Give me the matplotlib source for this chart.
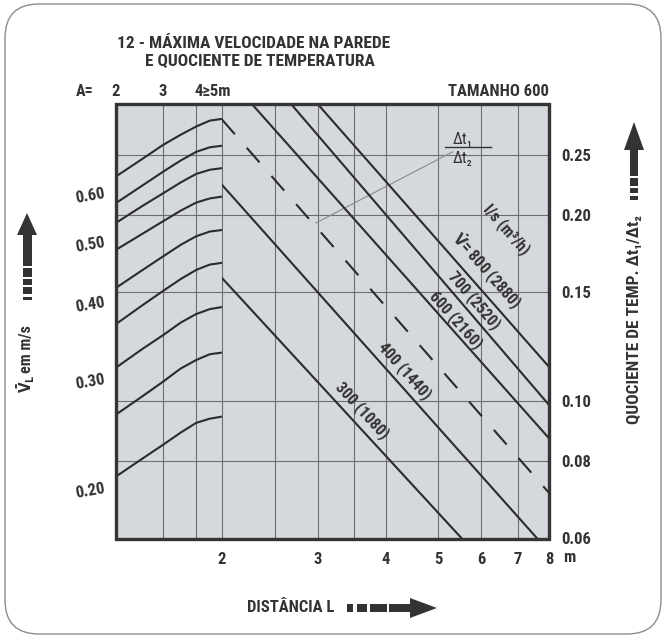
import numpy as np
import matplotlib
matplotlib.use("Agg")
import matplotlib.pyplot as plt
from matplotlib.patches import Rectangle, FancyBboxPatch, Polygon
from matplotlib import transforms
from matplotlib import font_manager as fm
from matplotlib.ticker import NullLocator, NullFormatter

# pick a condensed bold font if one is installed
_cond = [f for f in fm.fontManager.ttflist
         if f.stretch in ('condensed', 'semi-condensed', 'extra-condensed', 'ultra-condensed')
         or 'Condensed' in f.name or 'Narrow' in f.name]
_pref = ['Roboto Condensed', 'Liberation Sans Narrow', 'Roboto', 'DejaVu Sans',
         'Noto Sans', 'Open Sans', 'Open Sans Condensed']
FONT, STRETCH = 'DejaVu Sans', 'normal'
for p in _pref:
    hits = [f for f in _cond if f.name == p]
    if hits:
        FONT = p
        STRETCH = hits[0].stretch if not isinstance(hits[0].stretch, int) else 'condensed'
        break
else:
    if _cond:
        FONT, STRETCH = _cond[0].name, _cond[0].stretch
plt.rcParams['font.family'] = [FONT, 'DejaVu Sans']
plt.rcParams['font.stretch'] = STRETCH
plt.rcParams['font.weight'] = 'bold'
plt.rcParams['mathtext.fontset'] = 'dejavusans'
plt.rcParams['lines.scale_dashes'] = False

# ---------------- data ----------------
A_points = [2, 2.5, 3, 3.5, 4, 4.5, 5]
vl_curves = [
    [0.636, 0.678, 0.715, 0.743, 0.766, 0.783, 0.788],
    [0.576, 0.614, 0.647, 0.675, 0.697, 0.709, 0.713],
    [0.535, 0.569, 0.597, 0.622, 0.642, 0.652, 0.656],
    [0.484, 0.513, 0.538, 0.560, 0.577, 0.586, 0.590],
    [0.420, 0.448, 0.472, 0.493, 0.509, 0.518, 0.521],
    [0.367, 0.393, 0.415, 0.434, 0.449, 0.458, 0.461],
    [0.312, 0.334, 0.352, 0.369, 0.381, 0.388, 0.391],
    [0.262, 0.280, 0.296, 0.311, 0.321, 0.328, 0.330],
    [0.208, 0.222, 0.234, 0.245, 0.254, 0.258, 0.260],
]
flow_labels = ['300 (1080)', '400 (1440)', '', '600 (2160)', '700 (2520)',
               r'$\dot{\mathbf{V}}$= 800 (2880)']
line_L = [[2.0, 5.52], [2.0, 7.6], [2.0, 8.0], [2.27, 8.0], [2.68, 8.0], [3.0, 8.0]]
line_q = [[0.158, 0.06], [0.2235, 0.06], [0.285, 0.071], [0.302, 0.087],
          [0.302, 0.0985], [0.302, 0.1135]]
line_dashed = [False, False, True, False, False, False]
label_L = [3.63, 4.34, None, 5.40, 5.84, 6.14]
label_q = [0.0967, 0.112, None, 0.135, 0.1456, 0.162]
unit_label_L, unit_label_q = 6.68, 0.189
leader_L = [2.98, 5.32]
leader_q = [0.194, 0.2528]
frac_L, frac_q = 5.55, 0.2574

L_ticks = [2, 3, 4, 5, 6, 7, 8]
L_grid = [2, 2.5, 3, 3.5, 4, 5, 6, 7]
A_grid = [3, 4]
A_top_labels = ['2', '3']
A_top_pos = [2, 3]
q_ticks = [0.06, 0.08, 0.10, 0.15, 0.20, 0.25]
q_grid = [0.08, 0.10, 0.15, 0.20, 0.25]
vl_ticks = [0.20, 0.30, 0.40, 0.50, 0.60]
Q_LIM = (0.0598, 0.302)
VL_LIM = (0.1648, 0.833)

# ---------------- style ----------------
BG = '#d5d8dd'
GRID = '#6e6e6e'
INK = '#2b2b2b'
TXT = '#333333'
FS = 12

W, H = 670, 640
fig = plt.figure(figsize=(W / 100, H / 100), dpi=100)
fig.patch.set_facecolor('white')
ID = transforms.IdentityTransform()


def P(x, y):
    return (x, H - y)


def fx(x):
    return x / W


def fy(y):
    return 1 - y / H


X0, XM, X1 = 116, 222, 549
Y0, Y1 = 104, 539
axA = fig.add_axes([fx(X0), fy(Y1), fx(XM) - fx(X0), fy(Y0) - fy(Y1)])
axL = fig.add_axes([fx(XM), fy(Y1), fx(X1) - fx(XM), fy(Y0) - fy(Y1)])
for ax in (axA, axL):
    ax.set_facecolor(BG)
    ax.set_xscale('log')
    ax.set_yscale('log')
    for s in ax.spines.values():
        s.set_visible(False)
    for a in (ax.xaxis, ax.yaxis):
        a.set_minor_locator(NullLocator())
        a.set_minor_formatter(NullFormatter())
    ax.tick_params(which='both', length=0, colors=TXT)

axA.set_xlim(2, 5)
axA.set_ylim(*VL_LIM)
axL.set_xlim(2, 8)
axL.set_ylim(*Q_LIM)

# ticks
axA.set_xticks([])
axA.set_yticks(vl_ticks)
axA.set_yticklabels([f'{v:.2f}' for v in vl_ticks], rotation=10,
                    fontsize=FS, color=TXT)
axA.tick_params(axis='y', pad=7)
axL.set_xticks(L_ticks)
axL.set_xticklabels([str(v) for v in L_ticks], fontsize=FS, color=TXT)
axL.tick_params(axis='x', pad=9)
axL.yaxis.tick_right()
axL.set_yticks(q_ticks)
axL.set_yticklabels([f'{v:.2f}' for v in q_ticks], fontsize=FS, color=TXT)
axL.tick_params(axis='y', pad=9)

# grid
bt = transforms.blended_transform_factory(axA.transAxes, axL.transData)
for g in q_grid:
    axL.axhline(g, color=GRID, lw=0.8, zorder=1)
    axA.plot([0, 1], [g, g], transform=bt, color=GRID, lw=0.8, zorder=1)
for g in A_grid:
    axA.axvline(g, color=GRID, lw=0.8, zorder=1)
for g in L_grid:
    axL.axvline(g, color=GRID, lw=0.8, zorder=1, clip_on=False)

# curves on A region
for c in vl_curves:
    axA.plot(A_points, c, color=INK, lw=1.5, solid_capstyle='round', zorder=3)

# flow lines
for Ls, qs, d in zip(line_L, line_q, line_dashed):
    if d:
        axL.plot(Ls, qs, color=INK, lw=1.5, dashes=(14, 13), zorder=3)
    else:
        axL.plot(Ls, qs, color=INK, lw=1.5, zorder=3)


def line_angle(Ls, qs):
    p = axL.transData.transform(np.column_stack([Ls, qs]))
    return np.degrees(np.arctan2(p[1, 1] - p[0, 1], p[1, 0] - p[0, 0]))


for lab, Lp, qp, Ls, qs in zip(flow_labels, label_L, label_q, line_L, line_q):
    if not lab:
        continue
    ang = line_angle(Ls, qs)
    axL.text(Lp, qp, lab, rotation=ang, rotation_mode='anchor', ha='center',
             va='center', fontsize=11.5, color=TXT, zorder=4)
axL.text(unit_label_L, unit_label_q, 'l/s (m³/h)',
         rotation=line_angle(line_L[5], line_q[5]), rotation_mode='anchor',
         ha='center', va='center', fontsize=11.5, color=TXT, zorder=4)

# leader line and fraction
axL.plot(leader_L, leader_q, color='#8a8a8a', lw=0.8, zorder=2)
axL.text(frac_L, frac_q, 'Δt₁', ha='center', va='bottom', fontsize=11.5,
         color=TXT, fontweight='normal', zorder=4)
axL.text(frac_L, frac_q * 0.985, 'Δt₂', ha='center', va='top', fontsize=11.5,
         color=TXT, fontweight='normal', zorder=4)
fig.add_artist(plt.Line2D([445, 491], [H - 147, H - 147], transform=ID,
                          color=TXT, lw=1.0))

# frame
fig.add_artist(Rectangle(P(X0, Y1), X1 - X0, Y1 - Y0, fill=False, lw=2.4,
                         ec='#353535', transform=ID, zorder=10))

# outer rounded border
fig.add_artist(FancyBboxPatch(P(5, 634), 656, 630,
                              boxstyle='round,pad=0,rounding_size=34',
                              fill=False, ec='#8c8c8c', lw=1.0, transform=ID))

# titles and labels
fig.text(*P(117, 44), '12 - MÁXIMA VELOCIDADE NA PAREDE', transform=ID,
         ha='left', va='center', fontsize=12.5, color=TXT)
fig.text(*P(145, 62), 'E QUOCIENTE DE TEMPERATURA', transform=ID,
         ha='left', va='center', fontsize=12.5, color=TXT)
fig.text(*P(76, 92), 'A=', transform=ID, ha='left', va='center',
         fontsize=11.5, color=TXT)
tt = transforms.blended_transform_factory(axA.transData, ID)
for lab, a in zip(A_top_labels, A_top_pos):
    axA.text(a, H - 92, lab, transform=tt, ha='center', va='center',
             fontsize=FS, color=TXT, clip_on=False)
axA.text(3.93, H - 92, '4≥5m', transform=tt, ha='left', va='center',
         fontsize=FS, color=TXT, clip_on=False)
fig.text(*P(549, 92), 'TAMANHO 600', transform=ID, ha='right', va='center',
         fontsize=FS, color=TXT)
fig.text(*P(563, 557), 'm', transform=ID, ha='left', va='center',
         fontsize=FS, color=TXT)

fig.text(*P(26, 393), r'$\bar{\mathbf{V}}_{\mathbf{L}}$', transform=ID,
         rotation=90, ha='center', va='bottom', fontsize=11, color=TXT)
fig.text(*P(26, 373), 'em m/s', transform=ID,
         rotation=90, ha='center', va='bottom', fontsize=11.5, color=TXT)
fig.text(*P(635, 320), 'QUOCIENTE DE TEMP. Δt₁/Δt₂', transform=ID,
         rotation=90, ha='center', va='center', fontsize=12.5, color=TXT)
fig.text(*P(334, 608), 'DISTÂNCIA L', transform=ID, ha='right', va='center',
         fontsize=12, color=TXT)

# arrows
AC = '#333333'


def rect(x0, y0, x1, y1):
    fig.add_artist(Rectangle(P(x0, y1), x1 - x0, y1 - y0, fc=AC, ec='none',
                             transform=ID))


def tri(pts):
    fig.add_artist(Polygon([P(x, y) for x, y in pts], closed=True, fc=AC,
                           ec='none', transform=ID))


for y0, y1 in [(297, 300), (287, 294), (279, 285), (268, 277)]:
    rect(22.5, y0, 31.5, y1)
rect(22.5, 233, 31.5, 266)
tri([(17, 235), (37, 235), (27, 213)])
for y0, y1 in [(196, 200), (188, 193), (178, 186)]:
    rect(630, y0, 638, y1)
rect(630, 149, 638, 176)
tri([(624, 150), (644, 150), (634, 122)])
for x0, x1 in [(347, 353), (357, 367), (370, 387)]:
    rect(x0, 604, x1, 612)
rect(389, 604, 412, 612)
tri([(410, 598), (410, 618), (437, 608)])

fig.savefig('out.png', dpi=100, facecolor='white')
